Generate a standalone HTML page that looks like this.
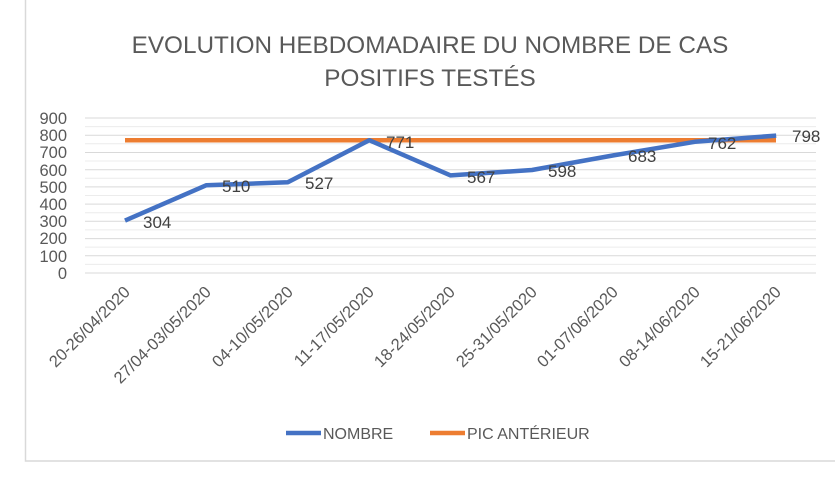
<!DOCTYPE html>
<html><head><meta charset="utf-8"><style>
body{margin:0;background:#fff;}
svg{display:block;font-family:"Liberation Sans",sans-serif;}
</style></head><body>
<svg width="835" height="477" viewBox="0 0 835 477">
<rect x="25.5" y="-2" width="820" height="463" fill="#fff" stroke="#d9d9d9" stroke-width="1.5"/>
<g fill="#595959" font-size="24.3" text-anchor="middle">
<text x="430" y="53">EVOLUTION HEBDOMADAIRE DU NOMBRE DE CAS</text>
<text x="430" y="86">POSITIFS TESTÉS</text>
</g>
<g stroke="#ececec" stroke-width="1">
<line x1="85" x2="816" y1="126.6" y2="126.6"/><line x1="85" x2="816" y1="143.8" y2="143.8"/>
<line x1="85" x2="816" y1="161" y2="161"/><line x1="85" x2="816" y1="178.3" y2="178.3"/>
<line x1="85" x2="816" y1="195.5" y2="195.5"/><line x1="85" x2="816" y1="212.7" y2="212.7"/>
<line x1="85" x2="816" y1="229.9" y2="229.9"/><line x1="85" x2="816" y1="247.1" y2="247.1"/>
<line x1="85" x2="816" y1="264.4" y2="264.4"/>
</g>
<g stroke="#d9d9d9" stroke-width="1">
<line x1="85" x2="816" y1="118" y2="118"/><line x1="85" x2="816" y1="135.2" y2="135.2"/>
<line x1="85" x2="816" y1="152.5" y2="152.5"/><line x1="85" x2="816" y1="169.7" y2="169.7"/>
<line x1="85" x2="816" y1="186.9" y2="186.9"/><line x1="85" x2="816" y1="204.1" y2="204.1"/>
<line x1="85" x2="816" y1="221.3" y2="221.3"/><line x1="85" x2="816" y1="238.6" y2="238.6"/>
<line x1="85" x2="816" y1="255.8" y2="255.8"/><line x1="85" x2="816" y1="273" y2="273"/>
</g>
<g fill="#595959" font-size="16.5" text-anchor="end">
<text x="67" y="124">900</text><text x="67" y="141">800</text><text x="67" y="158">700</text>
<text x="67" y="176">600</text><text x="67" y="193">500</text><text x="67" y="210">400</text>
<text x="67" y="227">300</text><text x="67" y="244">200</text><text x="67" y="262">100</text>
<text x="67" y="279">0</text>
</g>
<line x1="125" x2="776" y1="140.2" y2="140.2" stroke="#ed7d31" stroke-width="4.5"/>
<polyline fill="none" stroke="#4472c4" stroke-width="4.5" stroke-linejoin="round" points="125,220.6 206.4,185.2 287.8,182.3 369.2,140.2 450.6,175.4 532,170 613.4,155.4 694.8,141.8 776.2,135.6"/>
<g fill="#404040" font-size="17">
<text x="143" y="228">304</text><text x="222" y="192">510</text><text x="305" y="189">527</text>
<text x="386" y="148">771</text><text x="467" y="183">567</text><text x="548" y="177">598</text>
<text x="628" y="162">683</text><text x="708" y="149">762</text><text x="792" y="142">798</text>
</g>
<g fill="#595959" font-size="16.5" text-anchor="end">
<text transform="translate(131,293) rotate(-45)">20-26/04/2020</text>
<text transform="translate(212,293) rotate(-45)">27/04-03/05/2020</text>
<text transform="translate(294,293) rotate(-45)">04-10/05/2020</text>
<text transform="translate(375,293) rotate(-45)">11-17/05/2020</text>
<text transform="translate(456,293) rotate(-45)">18-24/05/2020</text>
<text transform="translate(538,293) rotate(-45)">25-31/05/2020</text>
<text transform="translate(619,293) rotate(-45)">01-07/06/2020</text>
<text transform="translate(701,293) rotate(-45)">08-14/06/2020</text>
<text transform="translate(782,293) rotate(-45)">15-21/06/2020</text>
</g>
<line x1="286" x2="321" y1="433" y2="433" stroke="#4472c4" stroke-width="4.5"/>
<line x1="430" x2="465" y1="433" y2="433" stroke="#ed7d31" stroke-width="4.5"/>
<g fill="#595959" font-size="16">
<text x="323" y="439">NOMBRE</text><text x="467" y="439">PIC ANTÉRIEUR</text>
</g>
</svg>
</body></html>
